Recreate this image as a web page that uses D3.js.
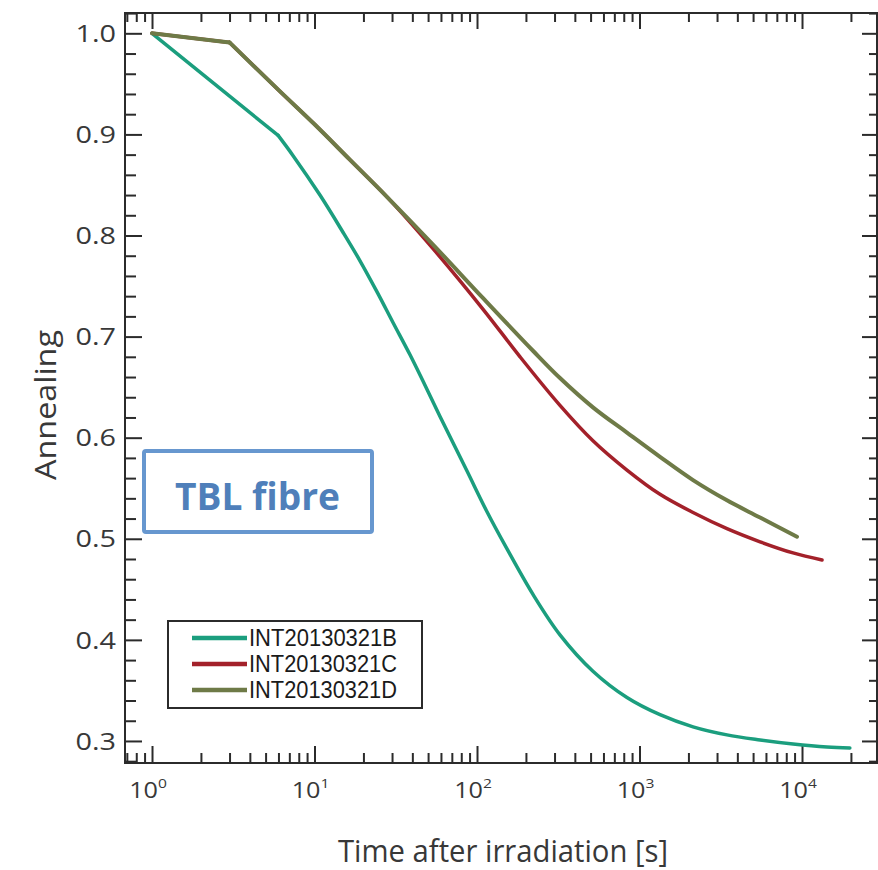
<!DOCTYPE html>
<html>
<head>
<meta charset="utf-8">
<script src="https://cdn.jsdelivr.net/npm/d3@7"></script>
<style>
  body { margin: 0; background: #fff; }
  svg { display: block; }
</style>
</head>
<body>
<div id="chart"></div>
<script>
// -----------------------------
// DATA
// -----------------------------
const seriesNames = ["INT20130321B", "INT20130321C", "INT20130321D"];
const seriesColors = ["#1b9e7e", "#a3212a", "#6e7a47"];

const timeB = [1, 5.97, 7.38, 10.8, 15.0, 19.05, 24.3, 30.4, 38.7, 46.5, 59.2, 86.8, 115, 153, 221, 324, 517, 837, 1337, 2135, 3453, 5520, 8810, 14250, 19700];
const annealB = [1.0, 0.899, 0.879, 0.840, 0.803, 0.775, 0.744, 0.714, 0.682, 0.656, 0.621, 0.567, 0.527, 0.490, 0.445, 0.405, 0.369, 0.343, 0.326, 0.314, 0.306, 0.301, 0.297, 0.294, 0.293];

const timeC = [1, 3, 6, 10, 16.5, 28, 53.6, 109, 184, 324, 517, 837, 1337, 2135, 3453, 5520, 8810, 13280];
const annealC = [1.0, 0.991, 0.944, 0.910, 0.875, 0.838, 0.787, 0.727, 0.680, 0.632, 0.597, 0.568, 0.544, 0.526, 0.510, 0.497, 0.486, 0.479];

const timeD = [1, 3, 6, 10, 16.5, 28, 53.6, 109, 221, 324, 517, 837, 1337, 2135, 3453, 5520, 9310];
const annealD = [1.0, 0.991, 0.944, 0.910, 0.875, 0.838, 0.791, 0.738, 0.686, 0.659, 0.630, 0.605, 0.581, 0.558, 0.538, 0.521, 0.502];

const xMajorTicks = [1, 10, 100, 1000, 10000];
const yMajorTicks = [0.3, 0.4, 0.5, 0.6, 0.7, 0.8, 0.9, 1.0];

const xLabel = "Time after irradiation [s]";
const yLabel = "Annealing";
const noteText = "TBL fibre";

// -----------------------------
// LAYOUT
// -----------------------------
const width = 878, height = 870;
const plot = { left: 125, right: 877, top: 13, bottom: 763 };
const stretch = 1.2;   // the reference text is stretched horizontally

const svg = d3.select("#chart").append("svg")
    .attr("width", width)
    .attr("height", height);

const x = d3.scaleLog()
    .domain([0.682, 28940])
    .range([plot.left, plot.right]);

const y = d3.scaleLinear()
    .domain([0.2782, 1.0201])
    .range([plot.bottom, plot.top]);

// minor ticks: 0.7..0.9, then 2..9 of each decade up to 2e4
const xMinorTicks = [];
[0.1, 1, 10, 100, 1000, 10000].forEach(dec => {
    for (let k = 2; k <= 9; k++) {
        const v = dec * k;
        if (v >= x.domain()[0] && v <= x.domain()[1] && v !== 1) xMinorTicks.push(v);
    }
});
const yMinorTicks = d3.range(0.28, 1.0201, 0.02).filter(v => Math.abs(Math.round(v * 10) - v * 10) > 0.01);

const axisColor = "#2b2b2b";

// frame
svg.append("rect")
    .attr("x", plot.left)
    .attr("y", plot.top)
    .attr("width", plot.right - plot.left)
    .attr("height", plot.bottom - plot.top)
    .attr("fill", "none")
    .attr("stroke", axisColor)
    .attr("stroke-width", 2);

// -----------------------------
// TICKS (inward on all four sides)
// -----------------------------
const addAxis = (axisFn, scale, values, size, transform) => {
    const g = svg.append("g")
        .attr("transform", transform)
        .call(axisFn(scale).tickValues(values).tickSize(-size).tickFormat(""));
    g.select(".domain").remove();
    g.selectAll(".tick line").attr("stroke", axisColor).attr("stroke-width", 2);
};

addAxis(d3.axisBottom, x, xMajorTicks, 17, `translate(0,${plot.bottom})`);
addAxis(d3.axisBottom, x, xMinorTicks, 10, `translate(0,${plot.bottom})`);
addAxis(d3.axisTop, x, xMajorTicks, 16, `translate(0,${plot.top})`);
addAxis(d3.axisTop, x, xMinorTicks, 9, `translate(0,${plot.top})`);
addAxis(d3.axisLeft, y, yMajorTicks, 17, `translate(${plot.left},0)`);
addAxis(d3.axisLeft, y, yMinorTicks, 11, `translate(${plot.left},0)`);
addAxis(d3.axisRight, y, yMajorTicks, 15, `translate(${plot.right},0)`);
addAxis(d3.axisRight, y, yMinorTicks, 8, `translate(${plot.right},0)`);

// -----------------------------
// TICK LABELS
// -----------------------------
const labelFont = "'Open Sans', 'DejaVu Sans', sans-serif";

xMajorTicks.forEach(v => {
    const t = svg.append("text")
        .attr("transform", `translate(${x(v) - 4},798) scale(${stretch},1)`)
        .attr("text-anchor", "middle")
        .attr("font-family", labelFont)
        .attr("font-size", 21)
        .attr("fill", "#383838");
    t.append("tspan").text("10");
    t.append("tspan")
        .attr("font-size", 13)
        .attr("dy", -10)
        .text(Math.round(Math.log10(v)));
});

yMajorTicks.forEach(v => {
    svg.append("text")
        .attr("transform", `translate(116,${y(v)}) scale(${stretch},1)`)
        .attr("text-anchor", "end")
        .attr("dy", "0.36em")
        .attr("font-family", labelFont)
        .attr("font-size", 24)
        .attr("fill", "#383838")
        .text(v.toFixed(1));
});

// axis titles
svg.append("text")
    .attr("x", 338)
    .attr("y", 862)
    .attr("font-family", labelFont)
    .attr("font-size", 31)
    .attr("textLength", 330)
    .attr("lengthAdjust", "spacingAndGlyphs")
    .attr("fill", "#383838")
    .text(xLabel);

svg.append("text")
    .attr("transform", "translate(56,480) rotate(-90)")
    .attr("font-family", labelFont)
    .attr("font-size", 30)
    .attr("textLength", 150)
    .attr("lengthAdjust", "spacingAndGlyphs")
    .attr("fill", "#383838")
    .text(yLabel);

// -----------------------------
// CURVES
// straight first segment (to the first measured point), smooth afterwards
// -----------------------------
const series = [
    { name: seriesNames[0], color: seriesColors[0], time: timeB, val: annealB, w: 3.5 },
    { name: seriesNames[1], color: seriesColors[1], time: timeC, val: annealC, w: 3.5 },
    { name: seriesNames[2], color: seriesColors[2], time: timeD, val: annealD, w: 4 }
];

const straight = d3.line()
    .x(d => x(d[0]))
    .y(d => y(d[1]));

const smooth = d3.line()
    .x(d => x(d[0]))
    .y(d => y(d[1]))
    .curve(d3.curveCatmullRom.alpha(0.5));

series.forEach(s => {
    const pts = d3.zip(s.time, s.val);
    const g = svg.append("g")
        .attr("fill", "none")
        .attr("stroke", s.color)
        .attr("stroke-width", s.w)
        .attr("stroke-linejoin", "round")
        .attr("stroke-linecap", "round");
    g.append("path").attr("d", straight(pts.slice(0, 2)));
    g.append("path").attr("d", smooth(pts.slice(1)));
});

// -----------------------------
// LEGEND
// -----------------------------
const legend = svg.append("g");
legend.append("rect")
    .attr("x", 168).attr("y", 621)
    .attr("width", 254).attr("height", 87)
    .attr("fill", "#fff")
    .attr("stroke", axisColor)
    .attr("stroke-width", 2);

series.forEach((s, i) => {
    const ly = 638 + i * 26;
    legend.append("line")
        .attr("x1", 192).attr("x2", 247)
        .attr("y1", ly).attr("y2", ly)
        .attr("stroke", s.color)
        .attr("stroke-width", 4.5);
    legend.append("text")
        .attr("x", 249).attr("y", ly)
        .attr("dy", "0.36em")
        .attr("font-family", "'Liberation Sans', Arial, sans-serif")
        .attr("font-size", 23)
        .attr("textLength", 148)
        .attr("lengthAdjust", "spacingAndGlyphs")
        .attr("fill", "#1a1a1a")
        .text(s.name);
});

// -----------------------------
// NOTE BOX ("TBL fibre")
// -----------------------------
svg.append("rect")
    .attr("x", 144).attr("y", 451)
    .attr("width", 228).attr("height", 81)
    .attr("rx", 2)
    .attr("fill", "#fff")
    .attr("stroke", "#6797cf")
    .attr("stroke-width", 4);

svg.append("text")
    .attr("x", 175).attr("y", 510)
    .attr("font-family", "'Open Sans', Lato, sans-serif")
    .attr("font-weight", "bold")
    .attr("font-size", 37)
    .attr("textLength", 165)
    .attr("lengthAdjust", "spacingAndGlyphs")
    .attr("fill", "#4f7fba")
    .text(noteText);
</script>
</body>
</html>
